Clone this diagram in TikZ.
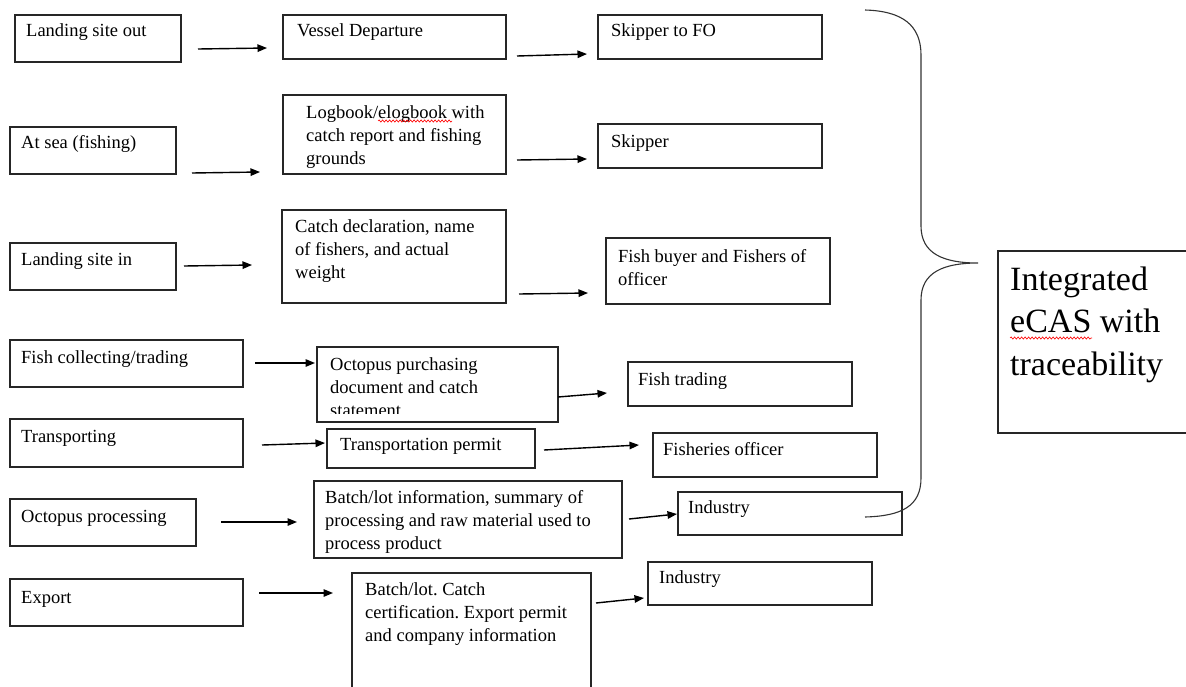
\documentclass[tikz,border=0pt]{standalone}
\usepackage{fontspec}
\setmainfont{Liberation Serif}
\usetikzlibrary{arrows.meta,fit,decorations.pathmorphing}
\frenchspacing

% A framed box with top-left aligned text, clipped to the frame
% [#1] bottom clip inset, #2 name, #3-#6 corners,
% #7-#8 offset of first baseline, #9 text
\newcommand\docbox[9][4]{%
  \node[frame, fit={(#3,#4) (#5,#6)}] (#2) {};
  \begin{scope}
    \clip (#3,#4) rectangle (#5,#6-#1);
    \node[txt] (#2-t) at (#3+#7,#4+#8) {\parbox[t]{400pt}{\raggedright #9}};
  \end{scope}}

\begin{document}
\begin{tikzpicture}[x=1pt,y=-1pt,
  frame/.style={draw=black!85, line width=1.2pt, inner sep=0pt},
  txt/.style={anchor=base west, inner sep=0pt, font=\fontsize{18.5}{23}\selectfont},
  bigtxt/.style={anchor=base west, inner sep=0pt, font=\fontsize{34}{42.5}\selectfont},
  flow/.style={line width=1.4pt, -{Triangle[length=9.5pt,width=7.5pt]}},
  brace/.style={draw=black!80, line width=1.1pt},
  spell/.style={red, line width=0.6pt, decorate,
    decoration={snake, amplitude=1.1pt, segment length=3.5pt}}]

\fill[white] (0,0) rectangle (1186,686);
\useasboundingbox (0,0) rectangle (1186,686);

% row 1
\docbox{lso}{15}{15}{181}{62}{11}{21}{Landing site out}
\docbox{vd}{283}{15}{506}{59}{14}{21}{Vessel Departure}
\docbox{sfo}{598}{15}{822}{59}{13}{21}{Skipper to FO}
% row 2
\docbox{sea}{10}{127}{176}{174}{11}{21}{At sea (fishing)}
\docbox{log}{283}{95}{506}{174}{23}{23}{Logbook/elogbook with\\catch report and fishing\\grounds}
\docbox{skp}{598}{124}{822}{168}{13}{23}{Skipper}
% row 3
\docbox{lsi}{10}{243}{176}{290}{11}{22}{Landing site in}
\docbox{cd}{282}{210}{506}{303}{13}{22}{Catch declaration, name\\of fishers, and actual\\weight}
\docbox{fb}{606}{238}{830}{304}{12}{24}{Fish buyer and Fishers of\\officer}
% row 4
\docbox{fc}{10}{340}{243}{387}{11}{23}{Fish collecting/trading}
\docbox[9]{op}{317}{347}{558}{422}{13}{23}{Octopus purchasing\\document and catch\\statement}
\docbox{ft}{628}{362}{852}{406}{10}{23}{Fish trading}
% row 5
\docbox{tr}{10}{419}{243}{467}{11}{23}{Transporting}
\docbox{tp}{327}{429}{535}{468}{13}{21}{Transportation permit}
\docbox{fo}{653}{433}{877}{477}{10}{22}{Fisheries officer}
% row 6
\docbox{opr}{10}{499}{196}{546}{11}{23}{Octopus processing}
\docbox{bl}{314}{481}{622}{558}{11}{22}{Batch/lot information, summary of\\processing and raw material used to\\process product}
\docbox{ind}{678}{492}{902}{535}{10}{21}{Industry}
% row 7
\docbox{ex}{10}{579}{243}{626}{11}{24}{Export}
\docbox{bc}{352}{573}{591}{700}{13}{22}{Batch/lot. Catch\\certification. Export permit\\and company information}
\docbox{indb}{648}{562}{872}{605}{11}{21}{Industry}

% summary box
\node[frame, fit={(998,251) (1194,433)}] (ecas) {};
\node[bigtxt] (ecas-t) at (1010,290) {\parbox[t]{300pt}{\raggedright Integrated\\eCAS with\\traceability}};

% spelling marks
\draw[spell] (378,121) -- (452,121);
\draw[spell] (1010,338) -- (1092,338);

% arrow end points
\coordinate (a1s) at (198,49);  \coordinate (a1e) at (267,48);
\coordinate (a2s) at (517,56);  \coordinate (a2e) at (587,54);
\coordinate (a3s) at (192,173); \coordinate (a3e) at (260,172);
\coordinate (a4s) at (517,160); \coordinate (a4e) at (587,159);
\coordinate (a5s) at (184,266); \coordinate (a5e) at (252,265);
\coordinate (a6s) at (519,294); \coordinate (a6e) at (588,293);
\coordinate (a7s) at (255,363); \coordinate (a7e) at (315,363);
\coordinate (a8s) at (558,397); \coordinate (a8e) at (607,393);
\coordinate (a9s) at (262,445); \coordinate (a9e) at (325,443);
\coordinate (a10s) at (544,450); \coordinate (a10e) at (639,445);
\coordinate (a11s) at (221,522); \coordinate (a11e) at (297,522);
\coordinate (a12s) at (629,519); \coordinate (a12e) at (677,514);
\coordinate (a13s) at (259,593); \coordinate (a13e) at (333,593);
\coordinate (a14s) at (596,603); \coordinate (a14e) at (644,598);

\foreach \i in {1,...,14} \draw[flow] (a\i s) -- (a\i e);

% brace gathering all rows
\coordinate (btop) at (865,10);
\coordinate (btip) at (978,263);
\coordinate (bbot) at (865,517);
\draw[brace] (btop) .. controls (902,11) and (921,25) .. (921,55)
  -- (921,226) .. controls (921,254) and (944,263) .. (btip)
  .. controls (944,263) and (921,272) .. (921,300)
  -- (921,478) .. controls (921,506) and (902,516) .. (bbot);
\end{tikzpicture}
\end{document}
